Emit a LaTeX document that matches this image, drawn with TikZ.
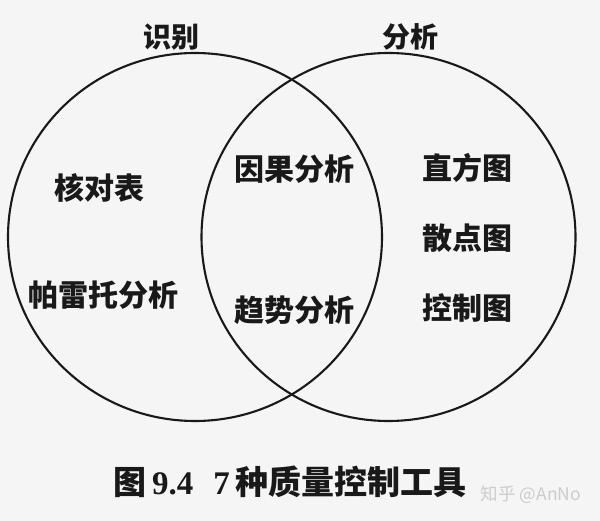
\documentclass[tikz,border=0pt]{standalone}
\usepackage{fontspec}
\setmainfont{Liberation Serif}
\newfontfamily\cjkfont{Noto Sans CJK SC}
\usepackage{tikz}
\usetikzlibrary{positioning,shapes.geometric}
\usepackage{xcolor}
\definecolor{PaperGray}{RGB}{245,245,245}
\definecolor{InkBlack}{RGB}{25,25,25}

\begin{document}
\begin{tikzpicture}[
    x=1pt, y=-1pt,
    node distance=41pt,
    ring/.style={ellipse, draw=InkBlack, line width=2.1pt, minimum width=374pt,
        minimum height=368pt, inner sep=0pt},
    setname/.style={font=\cjkfont\bfseries\fontsize{28}{28}\selectfont, text=InkBlack, inner sep=0pt},
    tool/.style={font=\cjkfont\bfseries\fontsize{30}{30}\selectfont, text=InkBlack, inner sep=0pt},
    caption/.style={font=\bfseries\fontsize{33}{33}\selectfont, text=InkBlack, inner sep=0pt},
    watermark/.style={font=\cjkfont\fontsize{17.5}{17.5}\selectfont, text=gray!40, inner sep=0pt},
]
\fill[PaperGray] (0,0) rectangle (600,521);

% the two sets
\node[ring] (idset) at (195,237) {};
\node[ring] (anset) at (388.5,237) {};
\node[setname] (idname) at (171,37) {识别};
\node[setname] (anname) at (410,37) {分析};

% identification only
\node[tool] (checklist) at (99,188) {核对表};
\node[tool] (pareto) at (103.5,295) {帕雷托分析};

% both
\node[tool] (cause) at (294,169) {因果分析};
\node[tool] (trend) at (294,310) {趋势分析};

% analysis only
\node[tool] (histo) at (467,168) {直方图};
\node[tool, below=of histo] (scatter) {散点图};
\node[tool, below=of scatter] (control) {控制图};

\node[caption] (figcap) at (290,482) {{\cjkfont 图}\,9.4\hspace{20pt}7\,{\cjkfont 种质量控制工具}};
\node[watermark] (zhihu) at (531,495) {知乎 @AnNo};
\end{tikzpicture}
\end{document}
